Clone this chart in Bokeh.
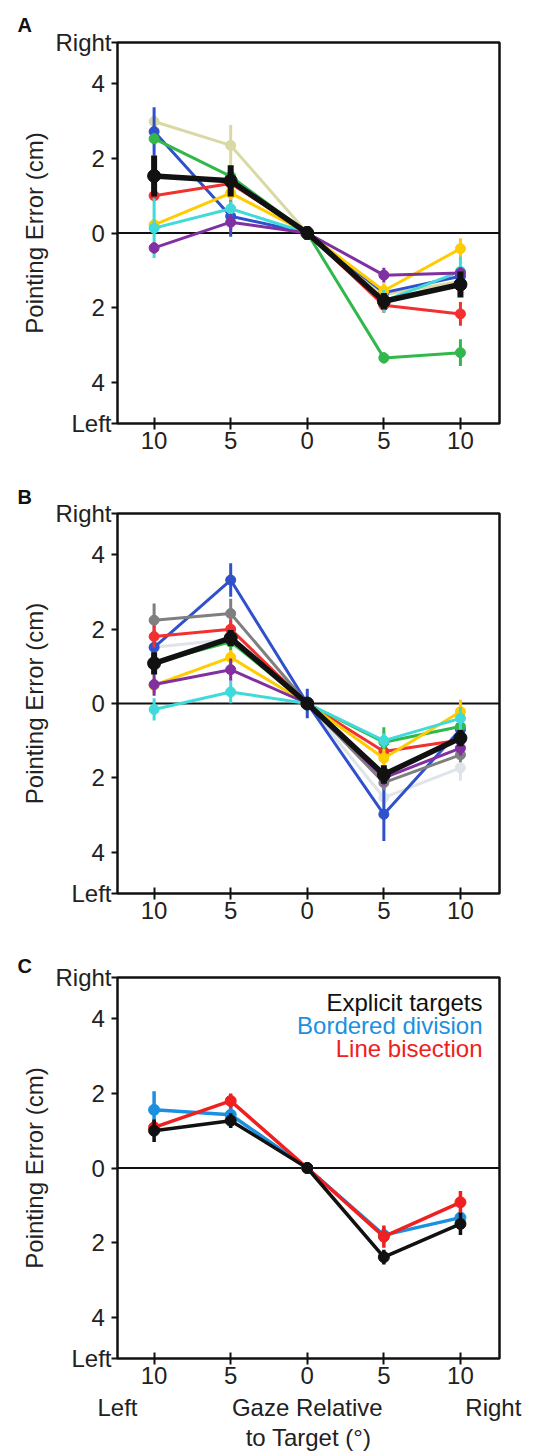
from bokeh.plotting import figure
from bokeh.layouts import column
from bokeh.models import Span, Label, FixedTicker, LinearAxis
from bokeh.embed import file_html
from bokeh.resources import INLINE

# ---------------- data ----------------
gaze = [-10, -5, 0, 5, 10]
x_tick_labels = ["10", "5", "0", "5", "10"]
y_ticks = [-4, -2, 0, 2, 4]
y_tick_labels = ["4", "2", "0", "2", "4"]
y_end_labels = ["Left", "Right"]
x_side_labels = ["Left", "Gaze Relative", "Right"]
x_title = "to Target (°)"
y_title = "Pointing Error (cm)"

# Panel A (individual subjects + mean)
a_beige = [2.99, 2.35, 0.0, -1.65, -1.30]
a_beige_err = [0.15, 0.55, 0.10, 0.20, 0.20]
a_blue = [2.72, 0.45, 0.0, -1.60, -1.16]
a_blue_err = [0.65, 0.55, 0.15, 0.20, 0.20]
a_green = [2.53, 1.52, 0.0, -3.35, -3.21]
a_green_err = [0.15, 0.15, 0.10, 0.15, 0.36]
a_red = [1.00, 1.33, 0.0, -1.94, -2.17]
a_red_err = [0.15, 0.15, 0.10, 0.20, 0.32]
a_yellow = [0.22, 1.07, 0.0, -1.55, -0.42]
a_yellow_err = [0.15, 0.20, 0.10, 0.20, 0.28]
a_cyan = [0.13, 0.65, 0.0, -1.83, -1.03]
a_cyan_err = [0.80, 0.20, 0.10, 0.30, 0.40]
a_purple = [-0.40, 0.29, 0.0, -1.13, -1.07]
a_purple_err = [0.15, 0.22, 0.10, 0.20, 0.15]
a_mean = [1.53, 1.40, 0.0, -1.83, -1.38]
a_mean_err = [0.55, 0.42, 0.18, 0.22, 0.35]

# Panel B
b_blue = [1.51, 3.32, 0.0, -2.98, -0.70]
b_blue_err = [0.15, 0.45, 0.40, 0.72, 0.20]
b_gray = [2.24, 2.42, 0.0, -2.13, -1.38]
b_gray_err = [0.45, 0.40, 0.10, 0.20, 0.20]
b_light = [1.51, 1.73, 0.0, -2.53, -1.73]
b_light_err = [0.20, 0.20, 0.10, 0.30, 0.35]
b_red = [1.80, 2.00, 0.0, -1.29, -0.98]
b_red_err = [0.30, 0.25, 0.10, 0.20, 0.20]
b_green = [1.10, 1.66, 0.0, -1.04, -0.62]
b_green_err = [0.15, 0.30, 0.10, 0.40, 0.25]
b_yellow = [0.49, 1.24, 0.0, -1.47, -0.22]
b_yellow_err = [0.20, 0.20, 0.10, 0.25, 0.32]
b_purple = [0.51, 0.91, 0.0, -2.00, -1.20]
b_purple_err = [0.30, 0.30, 0.10, 0.20, 0.20]
b_cyan = [-0.16, 0.31, 0.0, -1.00, -0.40]
b_cyan_err = [0.30, 0.30, 0.10, 0.20, 0.30]
b_mean = [1.08, 1.76, 0.0, -1.91, -0.93]
b_mean_err = [0.30, 0.22, 0.15, 0.25, 0.22]

# Panel C (conditions)
c_bordered = [1.56, 1.43, 0.0, -1.80, -1.33]
c_bordered_err = [0.50, 0.25, 0.15, 0.20, 0.15]
c_bisection = [1.09, 1.80, 0.0, -1.84, -0.92]
c_bisection_err = [0.20, 0.20, 0.10, 0.30, 0.30]
c_explicit = [1.00, 1.27, 0.0, -2.39, -1.50]
c_explicit_err = [0.30, 0.20, 0.15, 0.20, 0.30]
c_names = ["Explicit targets", "Bordered division", "Line bisection"]

BEIGE = "#d9d9a6"
BLUE = "#3050cc"
GREEN = "#30b84a"
RED = "#f23030"
YELLOW = "#ffcc00"
CYAN = "#40dada"
PURPLE = "#8030a0"
GRAY = "#7f7f7f"
LIGHT = "#dfe3ea"
BLACK = "#111111"
C_BLUE = "#1a90e0"
C_RED = "#f02020"
TXT = "#222222"

FONT = "Liberation Sans"
FS = "24px"
NBSP = "\u00a0"

X0, X1 = -12.39, 12.55
Y0, Y1 = -5.11, 5.11


def make_panel(letter, top_border, frame_h, bottom_border, letter_standoff):
    p = figure(frame_width=382, frame_height=frame_h,
               x_range=(X0, X1), y_range=(Y0, Y1),
               output_backend="svg", toolbar_location=None,
               min_border_left=117, min_border_right=39,
               min_border_top=top_border, min_border_bottom=bottom_border,
               background_fill_color="white", border_fill_color="white",
               title=letter)
    p.title.align = "left"
    p.title.offset = -100
    p.title.standoff = letter_standoff
    p.title.text_font = FONT
    p.title.text_font_size = "20px"
    p.title.text_font_style = "bold"
    p.title.text_color = BLACK

    p.grid.visible = False
    p.outline_line_color = BLACK
    p.outline_line_width = 2.5
    p.outline_line_alpha = 1.0

    xa = p.xaxis[0]
    xa.ticker = FixedTicker(ticks=gaze)
    xa.major_label_overrides = {float(k): v for k, v in zip(gaze, x_tick_labels)}
    xa.axis_line_color = None
    xa.major_tick_in = 6
    xa.major_tick_out = 6
    xa.major_tick_line_width = 2
    xa.major_tick_line_color = BLACK
    xa.minor_tick_line_color = None
    xa.major_label_text_font = FONT
    xa.major_label_text_font_size = FS
    xa.major_label_text_color = TXT
    xa.major_label_standoff = 2

    ya = p.yaxis[0]
    ticks = [Y0] + y_ticks + [Y1]
    labels = [y_end_labels[0]] + [t + NBSP for t in y_tick_labels] + [y_end_labels[1]]
    ya.ticker = FixedTicker(ticks=ticks)
    ya.major_label_overrides = {float(k): v for k, v in zip(ticks, labels)}
    ya.axis_line_color = None
    ya.major_tick_in = 0
    ya.major_tick_out = 6
    ya.major_tick_line_width = 2
    ya.major_tick_line_color = BLACK
    ya.minor_tick_line_color = None
    ya.major_label_text_font = FONT
    ya.major_label_text_font_size = FS
    ya.major_label_text_color = TXT
    ya.major_label_standoff = 0
    ya.axis_label = y_title
    ya.axis_label_text_font = FONT
    ya.axis_label_text_font_size = FS
    ya.axis_label_text_font_style = "normal"
    ya.axis_label_text_color = TXT
    ya.axis_label_standoff = 4

    p.add_layout(Span(location=0, dimension="width", line_color=BLACK,
                      line_width=2, level="underlay"))
    return p


def series(p, ys, errs, color, lw=3, size=10, elw=3):
    lo = [y - e for y, e in zip(ys, errs)]
    hi = [y + e for y, e in zip(ys, errs)]
    p.segment(x0=gaze, y0=lo, x1=gaze, y1=hi, line_color=color, line_width=elw)
    p.line(gaze, ys, line_color=color, line_width=lw)
    p.scatter(gaze, ys, size=size, fill_color=color, line_color=color)


# ---------------- Panel A ----------------
pa = make_panel("A", 42, 381, 47, 14)
series(pa, a_beige, a_beige_err, BEIGE)
series(pa, a_blue, a_blue_err, BLUE)
series(pa, a_green, a_green_err, GREEN)
series(pa, a_red, a_red_err, RED)
series(pa, a_yellow, a_yellow_err, YELLOW)
series(pa, a_cyan, a_cyan_err, CYAN)
series(pa, a_purple, a_purple_err, PURPLE)
series(pa, a_mean, a_mean_err, BLACK, lw=5.5, size=13, elw=6)

# ---------------- Panel B ----------------
pb = make_panel("B", 43, 380, 42, 12)
series(pb, b_light, b_light_err, LIGHT)
series(pb, b_blue, b_blue_err, BLUE)
series(pb, b_gray, b_gray_err, GRAY)
series(pb, b_red, b_red_err, RED)
series(pb, b_green, b_green_err, GREEN)
series(pb, b_yellow, b_yellow_err, YELLOW)
series(pb, b_purple, b_purple_err, PURPLE)
series(pb, b_cyan, b_cyan_err, CYAN)
series(pb, b_mean, b_mean_err, BLACK, lw=5.5, size=13, elw=6)

# ---------------- Panel C ----------------
pc = make_panel("C", 42, 381, 95, 2)
series(pc, c_bordered, c_bordered_err, C_BLUE, lw=3.5, size=11, elw=3.5)
series(pc, c_bisection, c_bisection_err, C_RED, lw=3.5, size=11, elw=3.5)
series(pc, c_explicit, c_explicit_err, BLACK, lw=3.5, size=11, elw=3.5)

for i, (name, col) in enumerate(zip(c_names, [BLACK, C_BLUE, C_RED])):
    pc.add_layout(Label(x=X1, y=Y1, x_offset=-17, y_offset=-25 - 23 * i,
                        text=name, text_align="right", text_baseline="middle",
                        text_font=FONT, text_font_size=FS, text_color=col))

side_ticks = [X0, 0.0, X1 - 0.4]
ax2 = LinearAxis(ticker=FixedTicker(ticks=side_ticks),
                 major_label_overrides={float(k): v for k, v in zip(side_ticks, x_side_labels)},
                 axis_line_color=None, major_tick_line_color=None,
                 minor_tick_line_color=None, major_tick_in=0, major_tick_out=0,
                 major_label_standoff=7,
                 major_label_text_font=FONT, major_label_text_font_size=FS,
                 major_label_text_color=TXT,
                 axis_label=x_title, axis_label_standoff=0,
                 axis_label_text_font=FONT, axis_label_text_font_size=FS,
                 axis_label_text_font_style="normal", axis_label_text_color=TXT)
pc.add_layout(ax2, "below")

layout = column(pa, pb, pc, spacing=0)
open("out.html", "w").write(file_html(layout, INLINE))
